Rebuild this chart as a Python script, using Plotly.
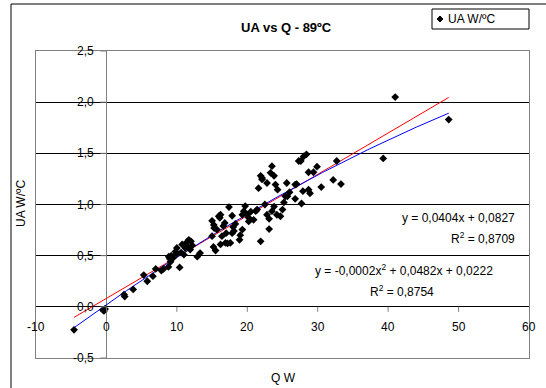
import numpy as np
import plotly.graph_objects as go

# ---- data ----
q_w = [-4.6, -0.5, -0.2, -0.35,
       2.6, 2.5, 3.8, 5.3, 5.8, 6.6, 7.0, 7.8, 8.1, 8.8, 8.85, 9.0, 9.1, 9.2, 9.5, 9.8,
       10.0, 10.0, 10.4, 10.6, 10.75, 11.0, 11.2, 11.4, 11.5, 11.7, 11.9, 12.0, 12.2, 12.9, 13.3,
       15.0, 15.0, 15.2, 15.25, 15.3, 15.5, 15.7, 15.95, 16.1, 16.2, 16.2, 16.4, 16.6, 16.8, 16.9,
       17.0, 17.2, 17.4, 17.6, 17.85, 17.85, 18.0, 18.1, 18.3, 18.9, 19.0, 19.3, 19.3, 19.5, 19.7,
       20.0, 20.2, 20.2, 20.5, 20.9, 21.2, 21.4, 21.6, 21.9, 21.9, 22.1, 22.1, 22.5, 22.8, 22.8,
       23.1, 23.1, 23.3, 23.5, 23.5, 23.8, 23.8, 24.0, 24.2, 24.3, 24.7, 25.0, 25.2, 25.4, 25.6,
       25.7, 26.0, 26.8, 26.8, 27.0, 27.3, 27.6, 27.7, 27.9, 28.0, 28.4, 28.7, 28.7, 28.9, 29.4,
       29.9, 30.5, 32.2, 32.7, 33.3, 39.3, 41.0, 48.6]
ua = [-0.225, -0.03, -0.02, -0.04,
      0.10, 0.12, 0.17, 0.31, 0.25, 0.30, 0.37, 0.355, 0.37, 0.39, 0.49, 0.47, 0.44, 0.50, 0.48, 0.54,
      0.575, 0.52, 0.385, 0.53, 0.61, 0.51, 0.575, 0.63, 0.59, 0.655, 0.56, 0.64, 0.60, 0.49, 0.525,
      0.84, 0.69, 0.585, 0.80, 0.77, 0.55, 0.755, 0.885, 0.87, 0.90, 0.61, 0.69, 0.79, 0.82, 0.625,
      0.72, 0.62, 0.975, 0.625, 0.89, 0.72, 0.78, 0.74, 0.81, 0.655, 0.70, 0.755, 0.90, 0.935, 0.985,
      0.90, 0.87, 0.835, 0.93, 0.85, 0.935, 0.95, 1.16, 1.28, 0.64, 1.26, 1.245, 1.00, 1.21, 0.90,
      0.86, 0.76, 1.31, 1.375, 0.935, 1.28, 0.98, 1.195, 0.90, 1.145, 0.885, 0.95, 1.02, 1.08, 1.21,
      1.08, 1.12, 1.195, 1.055, 1.20, 1.425, 1.425, 1.01, 1.13, 1.47, 1.49, 1.315, 1.145, 1.11, 1.315,
      1.37, 1.17, 1.24, 1.425, 1.20, 1.45, 2.05, 1.83]

# trendline coefficients shown on the chart (highest power first)
lin_coef = [0.0404, 0.0827]
quad_coef = [-0.0002, 0.0482, 0.0222]

x_ticks = [-10, 0, 10, 20, 30, 40, 50, 60]
x_tick_text = ["-10", "0", "10", "20", "30", "40", "50", "60"]
y_ticks = [-0.5, 0.0, 0.5, 1.0, 1.5, 2.0, 2.5]
y_tick_text = ["-0,5", "0,0", "0,5", "1,0", "1,5", "2,0", "2,5"]
series_name = "UA W/ºC"

FONT = "Arial, Liberation Sans, sans-serif"

L, R, T, B = 36, 17, 51, 30
W, H = 546, 388
pw, ph = W - L - R, H - T - B


def px_x(p):
    return (p - L) / pw


def px_y(p):
    return (H - p - B) / ph


xs = np.linspace(min(q_w), max(q_w), 200)

fig = go.Figure()
fig.add_trace(go.Scatter(x=xs, y=np.polyval(lin_coef, xs), mode="lines",
                         line=dict(color="#ff0000", width=1), showlegend=False, hoverinfo="skip"))
fig.add_trace(go.Scatter(x=xs, y=np.polyval(quad_coef, xs), mode="lines",
                         line=dict(color="#0000ff", width=1), showlegend=False, hoverinfo="skip"))
fig.add_trace(go.Scatter(x=q_w, y=ua, mode="markers", name=series_name, showlegend=False,
                         marker=dict(symbol="diamond", size=6, color="black",
                                     line=dict(width=0))))

txt = dict(family=FONT, size=12, color="black")
annotations = []
for v, t in zip(y_ticks, y_tick_text):
    annotations.append(dict(x=0, y=v, xref="x", yref="y", text=t, showarrow=False,
                            xanchor="right", yanchor="middle", xshift=-10, font=txt))
for v, t in zip(x_ticks, x_tick_text):
    annotations.append(dict(x=v, y=0, xref="x", yref="y", text=t, showarrow=False,
                            xanchor="center", yanchor="middle", yshift=-20, font=txt))

# trendline labels
annotations += [
    dict(x=px_x(517), y=px_y(218), text="y = 0,0404x + 0,0827", xanchor="right"),
    dict(x=px_x(517), y=px_y(238), text="R<sup>2</sup> = 0,8709", xanchor="right"),
    dict(x=px_x(404), y=px_y(270), text="y = -0,0002x<sup>2</sup> + 0,0482x + 0,0222", xanchor="center"),
    dict(x=px_x(402), y=px_y(291), text="R<sup>2</sup> = 0,8754", xanchor="center"),
]
for a in annotations[-4:]:
    a.update(xref="paper", yref="paper", showarrow=False, yanchor="middle", font=txt)

# titles
annotations.append(dict(x=px_x(283), y=px_y(378), xref="paper", yref="paper",
                        text="Q W", showarrow=False, xanchor="center", yanchor="middle", font=txt))
annotations.append(dict(x=px_x(21), y=px_y(204), xref="paper", yref="paper",
                        text="UA W/ºC", showarrow=False, textangle=-90, xanchor="center",
                        yanchor="middle", font=txt))
annotations.append(dict(x=px_x(286), y=px_y(28), xref="paper", yref="paper",
                        text="<b>UA vs Q - 89ºC</b>", showarrow=False, xanchor="center",
                        yanchor="middle", font=dict(family=FONT, size=13, color="black")))
# legend text
annotations.append(dict(x=px_x(446), y=px_y(19), xref="paper", yref="paper",
                        text=series_name, showarrow=False, xanchor="left",
                        yanchor="middle", font=txt))

shapes = []
# tick marks on the x axis (at y = 0)
for v in x_ticks[1:-1]:
    shapes.append(dict(type="line", xref="x", yref="y", x0=v, x1=v, ysizemode="pixel",
                       yanchor=0, y0=0, y1=-5, line=dict(color="#808080", width=1)))
# tick marks on the y axis (at x = 0)
for v in y_ticks:
    shapes.append(dict(type="line", xref="x", yref="y", y0=v, y1=v, xsizemode="pixel",
                       xanchor=0, x0=-6, x1=0, line=dict(color="#808080", width=1)))
# chart area border
shapes.append(dict(type="rect", xref="paper", yref="paper",
                   x0=px_x(11), x1=px_x(560), y0=px_y(400), y1=px_y(4),
                   line=dict(color="black", width=1), fillcolor="rgba(0,0,0,0)", layer="below"))
# legend box
shapes.append(dict(type="rect", xref="paper", yref="paper",
                   x0=px_x(432), x1=px_x(529), y0=px_y(29), y1=px_y(9),
                   line=dict(color="black", width=1), fillcolor="white", layer="above"))
# legend key (diamond)
cx, cy, r = 440, 19, 3
shapes.append(dict(type="path", xref="paper", yref="paper",
                   path=f"M {px_x(cx - r)} {px_y(cy)} L {px_x(cx)} {px_y(cy - r)} "
                        f"L {px_x(cx + r)} {px_y(cy)} L {px_x(cx)} {px_y(cy + r)} Z",
                   line=dict(color="black", width=1), fillcolor="black", layer="above"))

fig.update_layout(
    width=W, height=H,
    margin=dict(l=L, r=R, t=T, b=B, pad=0),
    paper_bgcolor="white", plot_bgcolor="white",
    font=txt,
    showlegend=False,
    annotations=annotations,
    shapes=shapes,
    xaxis=dict(range=[-10, 60], showgrid=False, zeroline=True, zerolinecolor="#808080",
               zerolinewidth=1, showline=True, linecolor="#808080", linewidth=1, mirror=True,
               showticklabels=False, ticks="", fixedrange=True),
    yaxis=dict(range=[-0.5, 2.5], dtick=0.5, tick0=0, showgrid=True, gridcolor="black",
               gridwidth=1, zeroline=True, zerolinecolor="black", zerolinewidth=1,
               showline=True, linecolor="#808080", linewidth=1, mirror=True,
               showticklabels=False, ticks="", fixedrange=True),
)

fig.write_html("out.html")
